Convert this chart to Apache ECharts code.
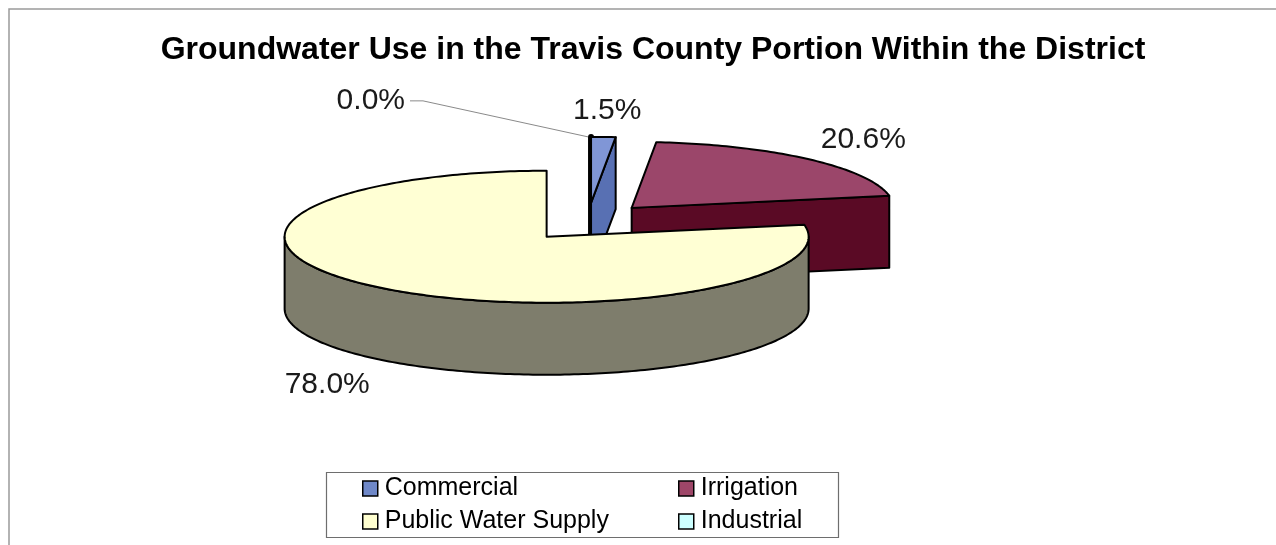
<!DOCTYPE html>
<html>
<head>
<meta charset="utf-8">
<script src="https://cdn.jsdelivr.net/npm/echarts@6/dist/echarts.min.js"></script>
<style>
  html, body { margin: 0; padding: 0; background: #ffffff; }
  #chart { width: 1276px; height: 545px; }
</style>
</head>
<body>
<div id="chart"></div>
<script>
// ---- data ----
const titleText = 'Groundwater Use in the Travis County Portion Within the District';
const categories = ['Commercial', 'Irrigation', 'Public Water Supply', 'Industrial'];
const shares = [1.5, 20.6, 78.0, 0.0];

// ---- colours per slice ----
const topColors = ['#8096d6', '#9b466a', '#ffffd4', '#ccffff'];
const sideColors = ['#5870b3', '#5a0a25', '#7e7d6c', '#8fb3b3'];
const swatchColors = ['#6f88c8', '#9e4668', '#ffffd0', '#ccffff'];

// ---- 3D pie geometry (screen px) ----
const PIE = { cx: 588, cy: 222, rx: 262, ry: 66, depth: 72, explodeX: 0.247, explodeY: 0.29 };
const FONT = '"Liberation Sans", Arial, sans-serif';
const DEG = Math.PI / 180;

const total = shares.reduce((a, b) => a + b, 0);
const startAngles = [];
(function () {
  let acc = 0;
  shares.forEach(v => { startAngles.push(acc / total * 360); acc += v; });
})();

// angles are measured clockwise from 12 o'clock
function rim(c, ang, dy) {
  return [c[0] + PIE.rx * Math.sin(ang * DEG), c[1] - PIE.ry * Math.cos(ang * DEG) + (dy || 0)];
}
function sliceCenter(mid) {
  return [PIE.cx + PIE.rx * PIE.explodeX * Math.sin(mid * DEG),
          PIE.cy - PIE.ry * PIE.explodeY * Math.cos(mid * DEG)];
}
function arc(c, a0, a1, dy) {
  const pts = [];
  const n = Math.max(2, Math.ceil(Math.abs(a1 - a0)));
  for (let k = 0; k <= n; k++) pts.push(rim(c, a0 + (a1 - a0) * k / n, dy));
  return pts;
}
function faceStyle(fill, w) {
  return { fill: fill, stroke: '#000000', lineWidth: w || 2, lineJoin: 'round' };
}

function sliceRenderer(i) {
  return function (params, api) {
    const v = api.value(0);
    const a0 = startAngles[i];
    const a1 = a0 + v / total * 360;
    const mid = (a0 + a1) / 2;
    const c = sliceCenter(mid);
    const d = PIE.depth;
    const kids = [];

    if (a1 - a0 > 0) {
      // radial walls facing the viewer (an edge-on wall shows as a heavy edge)
      [[a0, Math.sin(a0 * DEG)], [a1, -Math.sin(a1 * DEG)]].forEach(([a, facing]) => {
        const o = rim(c, a);
        const pts = [c, o, [o[0], o[1] + d], [c[0], c[1] + d]];
        if (facing < -1e-6) {
          kids.push({ type: 'polygon', shape: { points: pts }, style: faceStyle(sideColors[i]) });
        } else if (Math.abs(facing) <= 1e-6 && c[1] < PIE.cy) {
          kids.push({ type: 'polygon', shape: { points: pts }, style: faceStyle('#000000', 6) });
        }
      });
      // front part of the curved outer wall
      const lo = Math.max(a0, 90), hi = Math.min(a1, 270);
      if (hi > lo) {
        const topArc = arc(c, lo, hi, 0);
        const botArc = arc(c, hi, lo, d);
        kids.push({ type: 'polygon', shape: { points: topArc.concat(botArc) },
                    style: faceStyle(sideColors[i]) });
      }
      // top face
      kids.push({ type: 'polygon', shape: { points: [c].concat(arc(c, a0, a1, 0)) },
                  style: faceStyle(topColors[i]) });
    }

    // percentage label
    const txt = v.toFixed(1) + '%';
    const labelStyle = { font: '30px ' + FONT, fill: '#1a1a1a' };
    if (a1 - a0 > 0) {
      const s = Math.sin(mid * DEG), co = Math.cos(mid * DEG);
      const lx = c[0] + 1.31 * PIE.rx * s;
      const ly = c[1] - 1.4 * PIE.ry * co + (co < 0 ? d + 5 : 0);
      kids.push({ type: 'text', z2: 10,
                  style: Object.assign({ text: txt, x: lx, y: ly, textAlign: 'center', textVerticalAlign: 'middle' }, labelStyle) });
    } else {
      // empty slice: label pulled aside with a leader line to the rim
      const o = rim(c, a0);
      const lx = o[0] - 183, ly = o[1] - 36;
      kids.push({ type: 'polyline', z2: 9,
                  shape: { points: [[lx + 5, ly], [lx + 18, ly], o] },
                  style: { stroke: '#8a8a8a', lineWidth: 1, fill: null } });
      kids.push({ type: 'text', z2: 10,
                  style: Object.assign({ text: txt, x: lx, y: ly, textAlign: 'right', textVerticalAlign: 'middle' }, labelStyle) });
    }
    return { type: 'group', children: kids };
  };
}

// back-to-front drawing order by slice position
const drawRank = categories.map((_, i) => {
  const a0 = startAngles[i], a1 = a0 + shares[i] / total * 360;
  return -Math.cos((a0 + a1) / 2 * DEG);
});

const series = categories.map((name, i) => ({
  type: 'custom',
  name: name,
  coordinateSystem: 'none',
  silent: true,
  animation: false,
  z: 2 + drawRank[i],
  itemStyle: { color: swatchColors[i] },
  data: [[shares[i]]],
  renderItem: sliceRenderer(i)
}));

const legendCommon = {
  orient: 'vertical',
  top: 476,
  padding: 0,
  itemWidth: 15,
  itemHeight: 15,
  itemGap: 8,
  icon: 'rect',
  selectedMode: false,
  itemStyle: { borderColor: '#000000', borderWidth: 1.5 },
  textStyle: { fontFamily: FONT, fontSize: 25, lineHeight: 24, color: '#000000', padding: [0, 0, 0, 2] }
};

const chart = echarts.init(document.getElementById('chart'), null, { renderer: 'canvas' });
chart.setOption({
  backgroundColor: '#ffffff',
  animation: false,
  title: {
    text: titleText,
    left: 653,
    top: 34,
    textAlign: 'center',
    padding: 0,
    textStyle: { fontFamily: FONT, fontSize: 32, fontWeight: 'bold', color: '#000000' }
  },
  legend: [
    Object.assign({ left: 362, data: [categories[0], categories[2]] }, legendCommon),
    Object.assign({ left: 678, data: [categories[1], categories[3]] }, legendCommon)
  ],
  graphic: [
    { type: 'rect', z: -1, silent: true,
      shape: { x: 9, y: 9, width: 1400, height: 700 },
      style: { fill: null, stroke: '#9a9a9a', lineWidth: 1.5 } },
    { type: 'rect', z: -1, silent: true,
      shape: { x: 326.5, y: 472.5, width: 512, height: 65 },
      style: { fill: '#ffffff', stroke: '#6e6e6e', lineWidth: 1.2 } }
  ],
  series: series
});
</script>
</body>
</html>
